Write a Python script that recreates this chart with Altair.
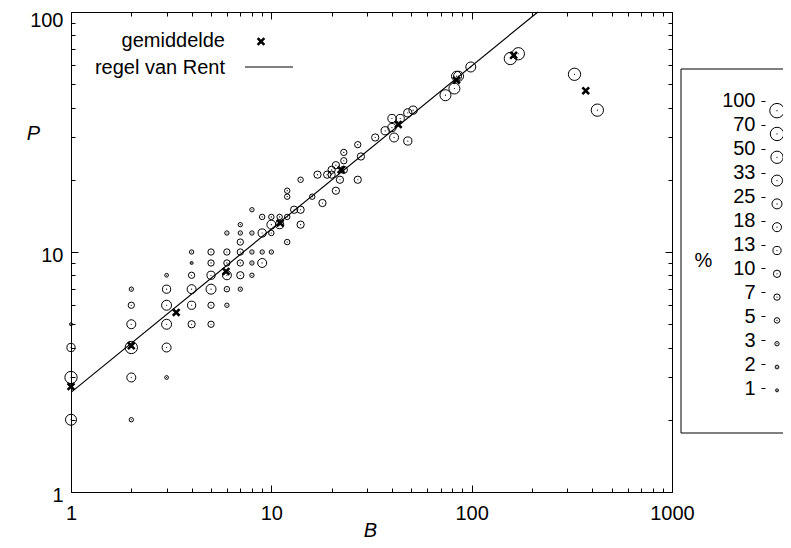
import altair as alt
import pandas as pd

FONT = "Liberation Sans"

# ---- data ----
B_vals = [1, 1, 1, 1,
          2, 2, 2, 2, 2, 2,
          3, 3, 3, 3, 3, 3,
          4, 4, 4, 4, 4, 4,
          5, 5, 5, 5, 5, 5,
          6, 6, 6, 6, 6, 6,
          7, 7, 7, 7, 7, 7, 7,
          8, 8, 8, 8, 8,
          9, 9, 9, 9,
          10, 10, 10, 10,
          11, 11,
          12, 12, 12, 12,
          13,
          14, 14, 14,
          16, 17, 18, 19,
          20, 20, 21, 21, 22,
          23, 23, 23,
          27, 27, 28, 33, 37,
          40, 40, 41, 44, 48, 48, 51,
          74, 82, 84, 86, 99, 156, 171, 326, 424]
P_vals = [2, 3, 4, 5,
          2, 3, 4, 5, 6, 7,
          3, 4, 5, 6, 7, 8,
          5, 6, 7, 8, 9, 10,
          5, 6, 7, 8, 9, 10,
          6, 7, 8, 9, 10, 12,
          7, 8, 9, 10, 11, 12, 13,
          8, 9, 10, 12, 15,
          9, 10, 12, 14,
          10, 12, 13, 14,
          13, 14,
          11, 14, 17, 18,
          15,
          13, 15, 20,
          17, 21, 16, 21,
          22, 21, 23, 18, 20,
          22, 24, 26,
          28, 20, 25, 30, 32,
          36, 33, 30, 36, 29, 38, 39,
          45, 48, 54, 54, 59, 64, 67, 55, 39]
pct_vals = [33, 50, 13, 1,
            3, 18, 50, 18, 7, 3,
            2, 18, 25, 25, 13, 2,
            10, 13, 18, 7, 1, 3,
            7, 7, 25, 13, 7, 7,
            3, 5, 18, 7, 7, 3,
            3, 10, 7, 7, 7, 3, 3,
            3, 3, 3, 3, 3,
            18, 3, 13, 5,
            3, 5, 18, 5,
            13, 5,
            5, 5, 5, 5,
            10,
            10, 10, 5,
            5, 10, 10, 10,
            10, 10, 10, 10, 10,
            10, 7, 7,
            7, 10, 10, 10, 13,
            13, 13, 18, 13, 13, 13, 13,
            33, 33, 25, 25, 25, 50, 50, 50, 50]

mean_B = [1, 2, 3.35, 5.94, 11.07, 22.3, 43, 84, 162, 371]
mean_P = [2.75, 4.07, 5.6, 8.3, 13.2, 22, 34, 52, 66, 47]

rent_B = [1, 214]
rent_P = [2.6, 100]

pct_levels = [100, 70, 50, 33, 25, 18, 13, 10, 7, 5, 3, 2, 1]
pct_labels = [str(v) for v in pct_levels]

x_major = [1, 10, 100, 1000]
x_minor = [2, 3, 4, 5, 6, 7, 8, 9, 20, 30, 40, 50, 60, 70, 80, 90,
           200, 300, 400, 500, 600, 700, 800, 900]
y_major = [1, 10, 100]
y_minor = [2, 3, 4, 5, 6, 7, 8, 9, 20, 30, 40, 50, 60, 70, 80, 90]

# ---- tables ----
df = pd.DataFrame({"B": B_vals, "P": P_vals, "pct": pct_vals})
mean_df = pd.DataFrame({"B": mean_B, "P": mean_P})
rent_df = pd.DataFrame({"B": rent_B, "P": rent_P})
leg_df = pd.DataFrame({"pct": pct_levels, "lab": pct_labels})
one = pd.DataFrame({"k": [0]})

size_range = [210, 180, 151, 121, 100, 81, 67, 53, 40, 30, 19, 14, 9]
size_scale = alt.Scale(type="ordinal", domain=pct_levels, range=size_range)

xs = alt.Scale(type="log", domain=[1, 1000], nice=False)
ys = alt.Scale(type="log", domain=[1, 100], nice=False)


def tick_axis(orient, values, size, **kw):
    base = dict(orient=orient, values=values, offset=-size, tickSize=size,
                domain=False, grid=False, labels=False, title=None,
                tickColor="black", tickWidth=1)
    base.update(kw)
    return alt.Axis(**base)


ax_bottom_major = tick_axis(
    "bottom", x_major, 7, labels=True, format="d", labelFontSize=20,
    labelFont=FONT, labelColor="black", labelPadding=11, labelOverlap=False,
    labelFlush=False,
    title="B", titleFont=FONT, titleFontSize=20, titleFontStyle="italic",
    titleFontWeight="normal", titleColor="black", titleX=299, titleY=51,
    titleBaseline="alphabetic", titleAlign="center")
ay_left_major = tick_axis(
    "left", y_major, 7, labels=True, format="d", labelFontSize=20,
    labelFont=FONT, labelColor="black", labelPadding=8, labelOverlap=False,
    labelFlush=False,
    labelOffset={"condition": {"test": "datum.value >= 100", "value": 8},
                 "value": 3},
    title="P", titleFont=FONT, titleFontSize=20, titleFontStyle="italic",
    titleFontWeight="normal", titleColor="black", titleAngle=0, titleX=-45,
    titleY=127, titleBaseline="alphabetic", titleAlign="center")
ax_bottom_minor = tick_axis("bottom", x_minor, 4)
ay_left_minor = tick_axis("left", y_minor, 4)
ax_top_major = tick_axis("top", x_major, 7)
ay_right_major = tick_axis("right", y_major, 7)
ax_top_minor = tick_axis("top", x_minor, 4)
ay_right_minor = tick_axis("right", y_minor, 4)

circles = alt.Chart(df).mark_point(
    shape="circle", filled=False, stroke="black", strokeWidth=1, opacity=1
).encode(
    x=alt.X("B:Q", scale=xs, axis=ax_bottom_major),
    y=alt.Y("P:Q", scale=ys, axis=ay_left_major),
    size=alt.Size("pct:O", scale=size_scale, legend=None),
)
dots = alt.Chart(df).mark_circle(size=1.5, color="black", opacity=1).encode(
    x=alt.X("B:Q", scale=xs, axis=ax_bottom_minor),
    y=alt.Y("P:Q", scale=ys, axis=ay_left_minor),
)
rent = alt.Chart(rent_df).mark_line(color="black", strokeWidth=1.2).encode(
    x=alt.X("B:Q", scale=xs, axis=ax_top_minor),
    y=alt.Y("P:Q", scale=ys, axis=ay_right_minor),
)
X_SHAPE = "M-1,-1L1,1M-1,1L1,-1"
crosses = alt.Chart(mean_df).mark_point(
    shape=X_SHAPE, filled=False, stroke="black", strokeWidth=2.6, size=45,
    opacity=1
).encode(
    x=alt.X("B:Q", scale=xs, axis=ax_top_major),
    y=alt.Y("P:Q", scale=ys, axis=ay_right_major),
)

# ---- in-plot key ----
key_text1 = alt.Chart(one).mark_text(
    text="gemiddelde", align="right", baseline="alphabetic", fontSize=20,
    font=FONT, color="black"
).encode(x=alt.value(154), y=alt.value(35))
key_text2 = alt.Chart(one).mark_text(
    text="regel van Rent", align="right", baseline="alphabetic", fontSize=20,
    font=FONT, color="black"
).encode(x=alt.value(154), y=alt.value(62))
key_mark = alt.Chart(one).mark_point(
    shape=X_SHAPE, filled=False, stroke="black", strokeWidth=2.6, size=45,
    opacity=1
).encode(x=alt.value(190), y=alt.value(29.5))
key_line = alt.Chart(one).mark_rule(color="black", strokeWidth=1).encode(
    x=alt.value(174), x2=alt.value(222), y=alt.value(55))

# ---- size key (right, runs off the page edge) ----
key_box = alt.Chart(one).mark_rect(
    fillOpacity=0, stroke="black", strokeWidth=1
).encode(x=alt.value(610), x2=alt.value(740), y=alt.value(57), y2=alt.value(421))

lab_axis = alt.Axis(
    orient="left", offset=-694, domain=False, grid=False, tickSize=4,
    tickColor="black", labelPadding=6, labelFontSize=20, labelFont=FONT,
    labelColor="black", labelOverlap=False, labelFlush=False,
    title="%", titleFont=FONT, titleFontSize=20, titleFontWeight="normal",
    titleColor="black", titleAngle=0, titleX=-62, titleY=254,
    titleBaseline="alphabetic", titleAlign="center")
key_labels = alt.Chart(leg_df).mark_point(opacity=0).encode(
    x=alt.value(690),
    y=alt.Y("lab:O", sort=pct_labels,
            scale=alt.Scale(type="point", domain=pct_labels, range=[77, 388]),
            axis=lab_axis))
circ_scale = alt.Scale(type="point", domain=pct_labels, range=[87, 390])
key_circles = alt.Chart(leg_df).mark_point(
    shape="circle", filled=False, stroke="black", strokeWidth=1, opacity=1
).encode(
    x=alt.value(706),
    y=alt.Y("lab:O", sort=pct_labels, scale=circ_scale, axis=None),
    size=alt.Size("pct:O", scale=size_scale, legend=None),
)
key_dots = alt.Chart(leg_df).mark_circle(size=1.5, color="black", opacity=1).encode(
    x=alt.value(706),
    y=alt.Y("lab:O", sort=pct_labels, scale=circ_scale, axis=None),
)

chart = alt.layer(
    circles, dots, rent, crosses,
    key_text1, key_text2, key_mark, key_line,
    key_box, key_labels, key_circles, key_dots,
).resolve_scale(
    y="independent"
).resolve_axis(
    x="independent", y="independent"
).properties(
    width=601, height=480,
    autosize=alt.AutoSizeParams(type="none"),
    padding={"left": 63, "top": 4, "right": 111, "bottom": 48},
).configure(font=FONT).configure_view(stroke="black", strokeWidth=1)

chart.save("out.html", embed_options={"renderer": "svg", "actions": False})
